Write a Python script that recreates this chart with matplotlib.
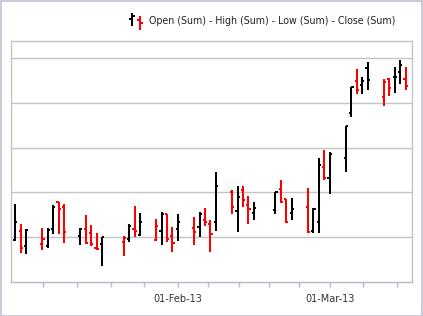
import numpy as np
import matplotlib
matplotlib.use("Agg")
import matplotlib.pyplot as plt
import matplotlib.dates as mdates
from matplotlib.lines import Line2D
from matplotlib.patches import Rectangle

# trading days shown on the chart
dates = ["2013-01-02", "2013-01-03", "2013-01-04",
         "2013-01-07", "2013-01-08", "2013-01-09", "2013-01-10", "2013-01-11",
         "2013-01-14", "2013-01-15", "2013-01-16", "2013-01-17", "2013-01-18",
         "2013-01-22", "2013-01-23", "2013-01-24", "2013-01-25",
         "2013-01-28", "2013-01-29", "2013-01-30", "2013-01-31", "2013-02-01",
         "2013-02-04", "2013-02-05", "2013-02-06", "2013-02-07", "2013-02-08",
         "2013-02-11", "2013-02-12", "2013-02-13", "2013-02-14", "2013-02-15",
         "2013-02-19", "2013-02-20", "2013-02-21", "2013-02-22",
         "2013-02-25", "2013-02-26", "2013-02-27", "2013-02-28", "2013-03-01",
         "2013-03-04", "2013-03-05", "2013-03-06", "2013-03-07", "2013-03-08",
         "2013-03-11", "2013-03-12", "2013-03-13", "2013-03-14", "2013-03-15"]

opens = [20.93, 21.15, 20.81,
         20.84, 20.80, 21.18, 21.78, 21.68,
         21.03, 21.18, 21.10, 20.77, 20.85,
         20.89, 20.95, 21.19, 21.06,
         20.93, 21.13, 21.52, 21.03, 21.19,
         21.20, 21.22, 21.39, 21.30, 21.35,
         22.01, 21.58, 22.05, 21.72, 21.54,
         21.60, 22.08, 21.85, 21.55,
         21.67, 21.15, 21.33, 22.57, 22.32,
         22.77, 23.77, 24.50, 24.41, 24.78,
         24.13, 24.54, 24.57, 24.69, 24.54]

highs = [21.75, 21.30, 21.19,
         21.21, 21.21, 21.72, 21.79, 21.75,
         21.21, 21.49, 21.28, 21.10, 21.01,
         21.03, 21.30, 21.70, 21.55,
         21.41, 21.56, 21.52, 21.24, 21.53,
         21.45, 21.56, 21.66, 21.39, 22.46,
         22.06, 22.14, 22.15, 21.93, 21.78,
         22.02, 22.29, 21.85, 21.88,
         22.11, 21.66, 22.76, 22.96, 22.90,
         23.49, 24.36, 24.77, 24.57, 24.92,
         24.54, 24.56, 24.80, 24.95, 24.80]

lows = [20.91, 20.65, 20.62,
        20.71, 20.75, 21.08, 21.08, 20.88,
        20.82, 20.85, 20.81, 20.71, 20.35,
        20.57, 20.89, 21.00, 21.03,
        20.92, 20.82, 20.89, 20.68, 20.91,
        20.82, 21.00, 21.26, 20.66, 21.15,
        21.53, 21.11, 21.67, 21.30, 21.38,
        21.52, 21.77, 21.32, 21.38,
        21.09, 21.09, 21.09, 22.29, 21.96,
        22.45, 23.68, 24.20, 24.19, 24.30,
        23.94, 24.15, 24.22, 24.42, 24.30]

closes = [21.35, 20.77, 21.17,
          20.95, 21.16, 21.67, 21.64, 21.12,
          21.18, 20.88, 20.86, 20.74, 21.01,
          20.98, 21.26, 21.15, 21.33,
          21.26, 21.53, 20.95, 20.88, 21.35,
          21.11, 21.53, 21.35, 21.08, 22.15,
          21.67, 21.91, 21.83, 21.62, 21.65,
          22.01, 21.78, 21.35, 21.62,
          21.11, 21.62, 22.61, 22.32, 22.87,
          23.48, 24.35, 24.30, 24.49, 24.52,
          24.48, 24.34, 24.59, 24.84, 24.39]

major_dates = ["2013-02-01", "2013-03-01"]
major_labels = ["01-Feb-13", "01-Mar-13"]
month_starts = ["2013-01-01", "2013-02-01", "2013-03-01", "2013-04-01"]

x = mdates.datestr2num(dates)
o = np.array(opens); h = np.array(highs); l = np.array(lows); c = np.array(closes)

# reduction colour: close below the previous close
colors = ["black"] + ["red" if c[i] < c[i - 1] else "black" for i in range(1, len(c))]

W, H = 423, 316
fig = plt.figure(figsize=(W / 100, H / 100), dpi=100)
fig.patch.set_facecolor("white")
fig.add_artist(Rectangle((0.5 / W, 0.5 / H), 1 - 1.5 / W, 1 - 1.5 / H,
                         transform=fig.transFigure, fill=False,
                         edgecolor="#c9cbd8", lw=1.5))

ax = fig.add_axes([11 / W, 1 - 282 / H, 401 / W, 241 / H])

lw = 1.3
tick = 0.4
ax.vlines(x, l, h, colors=colors, lw=lw, antialiased=False)
ax.hlines(o, x - tick, x, colors=colors, lw=lw, antialiased=False)
ax.hlines(c, x, x + tick, colors=colors, lw=lw, antialiased=False)

# small padding of under a day on both ends
ax.set_xlim(x[0] - 0.79, x[-1] + 1.19)
ax.set_ylim(20, 25.385)

ms = mdates.datestr2num(month_starts)
minor = []
for a, b in zip(ms[:-1], ms[1:]):
    minor += list(a + (b - a) * np.arange(1, 5) / 5)
minor = [m for m in minor if ax.get_xlim()[0] < m < ax.get_xlim()[1]]
ax.set_xticks(mdates.datestr2num(major_dates))
ax.set_xticklabels(major_labels)
ax.set_xticks(minor, minor=True)
ax.tick_params(axis="x", which="both", length=3.5, width=1, color="#b5b9c9",
               labelsize=7, labelcolor="#333333", pad=5)

ax.set_yticks([21, 22, 23, 24, 25])
ax.tick_params(axis="y", which="both", length=0, labelleft=False)
ax.grid(axis="y", color="#c4c4c4", lw=1)
ax.set_axisbelow(True)
for s in ax.spines.values():
    s.set_color("#c4c4c4")
    s.set_linewidth(1)
ax.spines["bottom"].set_color("#b5b9c9")

# legend
def leg(xs, ys, col):
    fig.add_artist(Line2D([v / W for v in xs], [1 - v / H for v in ys], color=col,
                          lw=lw, transform=fig.transFigure, antialiased=False))

leg([132, 132], [14, 25], "black")
leg([130, 132], [19, 19], "black")
leg([132, 134], [16, 16], "black")
leg([140, 140], [17, 28.5], "red")
leg([138, 140], [20, 20], "red")
leg([140, 142], [23, 23], "red")
fig.text(149 / W, 1 - 21 / H, "Open (Sum) - High (Sum) - Low (Sum) - Close (Sum)",
         fontsize=6.85, color="#222222", va="center", ha="left")

fig.savefig("out.png", dpi=100)
